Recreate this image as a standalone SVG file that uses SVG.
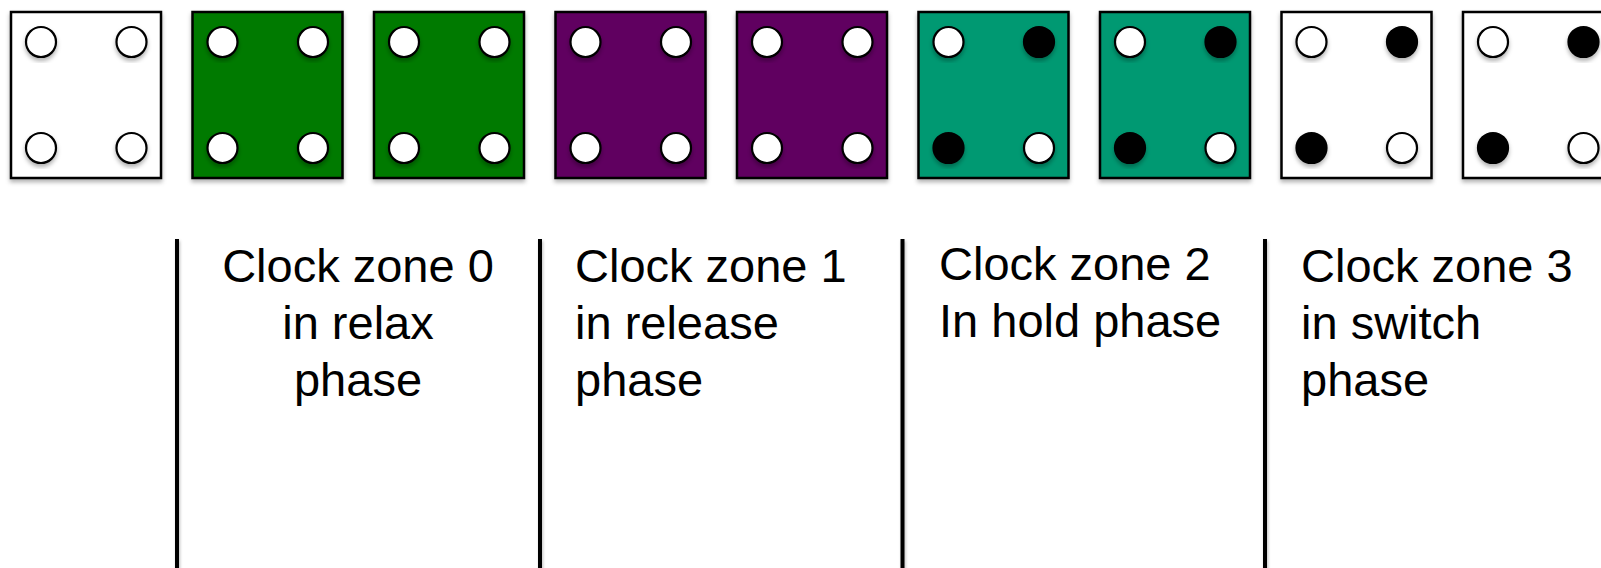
<svg xmlns="http://www.w3.org/2000/svg" width="1601" height="568" viewBox="0 0 1601 568">
<defs>
<filter id="sh" x="-20%" y="-20%" width="140%" height="140%">
<feDropShadow dx="0" dy="3" stdDeviation="2" flood-color="#000" flood-opacity="0.3"/>
</filter>
<filter id="shl" filterUnits="userSpaceOnUse" x="0" y="200" width="1601" height="400">
<feDropShadow dx="1" dy="2" stdDeviation="1.5" flood-color="#000" flood-opacity="0.25"/>
</filter>
<style>
.box{stroke:#000;stroke-width:2.5;filter:url(#sh)}
.w{fill:#fff}
.g{fill:#027A02}
.p{fill:#600060}
.t{fill:#039972}
.o{fill:#fff;stroke:#000;stroke-width:2.2;filter:url(#sh)}
.f{fill:#000;stroke:#000;stroke-width:2.2;filter:url(#sh)}
.sep{fill:#000;filter:url(#shl)}
text{font-family:"Liberation Sans",Arial,sans-serif;font-size:47px;fill:#000}
</style>
</defs>
<rect width="1601" height="568" fill="#fff"/>
<g id="cell0"><rect class="box w" x="11" y="12" width="150" height="166"/><circle class="o" cx="41" cy="42" r="15"/><circle class="o" cx="131.5" cy="42" r="15"/><circle class="o" cx="41" cy="148" r="15"/><circle class="o" cx="131.5" cy="148" r="15"/></g>
<g id="cell1" transform="translate(181.5,0)"><rect class="box g" x="11" y="12" width="150" height="166"/><circle class="o" cx="41" cy="42" r="15"/><circle class="o" cx="131.5" cy="42" r="15"/><circle class="o" cx="41" cy="148" r="15"/><circle class="o" cx="131.5" cy="148" r="15"/></g>
<g id="cell2" transform="translate(363,0)"><rect class="box g" x="11" y="12" width="150" height="166"/><circle class="o" cx="41" cy="42" r="15"/><circle class="o" cx="131.5" cy="42" r="15"/><circle class="o" cx="41" cy="148" r="15"/><circle class="o" cx="131.5" cy="148" r="15"/></g>
<g id="cell3" transform="translate(544.5,0)"><rect class="box p" x="11" y="12" width="150" height="166"/><circle class="o" cx="41" cy="42" r="15"/><circle class="o" cx="131.5" cy="42" r="15"/><circle class="o" cx="41" cy="148" r="15"/><circle class="o" cx="131.5" cy="148" r="15"/></g>
<g id="cell4" transform="translate(726,0)"><rect class="box p" x="11" y="12" width="150" height="166"/><circle class="o" cx="41" cy="42" r="15"/><circle class="o" cx="131.5" cy="42" r="15"/><circle class="o" cx="41" cy="148" r="15"/><circle class="o" cx="131.5" cy="148" r="15"/></g>
<g id="cell5" transform="translate(907.5,0)"><rect class="box t" x="11" y="12" width="150" height="166"/><circle class="o" cx="41" cy="42" r="15"/><circle class="f" cx="131.5" cy="42" r="15"/><circle class="f" cx="41" cy="148" r="15"/><circle class="o" cx="131.5" cy="148" r="15"/></g>
<g id="cell6" transform="translate(1089,0)"><rect class="box t" x="11" y="12" width="150" height="166"/><circle class="o" cx="41" cy="42" r="15"/><circle class="f" cx="131.5" cy="42" r="15"/><circle class="f" cx="41" cy="148" r="15"/><circle class="o" cx="131.5" cy="148" r="15"/></g>
<g id="cell7" transform="translate(1270.5,0)"><rect class="box w" x="11" y="12" width="150" height="166"/><circle class="o" cx="41" cy="42" r="15"/><circle class="f" cx="131.5" cy="42" r="15"/><circle class="f" cx="41" cy="148" r="15"/><circle class="o" cx="131.5" cy="148" r="15"/></g>
<g id="cell8" transform="translate(1452,0)"><rect class="box w" x="11" y="12" width="150" height="166"/><circle class="o" cx="41" cy="42" r="15"/><circle class="f" cx="131.5" cy="42" r="15"/><circle class="f" cx="41" cy="148" r="15"/><circle class="o" cx="131.5" cy="148" r="15"/></g>
<g id="separators">
<rect class="sep" x="175" y="239" width="4" height="335"/>
<rect class="sep" x="538" y="239" width="4" height="335"/>
<rect class="sep" x="900.5" y="239" width="4" height="335"/>
<rect class="sep" x="1263" y="239" width="4" height="335"/>
</g>
<g id="zone0"><text x="358" y="282" text-anchor="middle">Clock zone 0</text><text x="358" y="339" text-anchor="middle">in relax</text><text x="358" y="396" text-anchor="middle">phase</text></g>
<g id="zone1"><text x="575" y="282">Clock zone 1</text><text x="575" y="339">in release</text><text x="575" y="396">phase</text></g>
<g id="zone2"><text x="939" y="280">Clock zone 2</text><text x="939" y="337">In hold phase</text></g>
<g id="zone3"><text x="1301" y="282">Clock zone 3</text><text x="1301" y="339">in switch</text><text x="1301" y="396">phase</text></g>
</svg>
